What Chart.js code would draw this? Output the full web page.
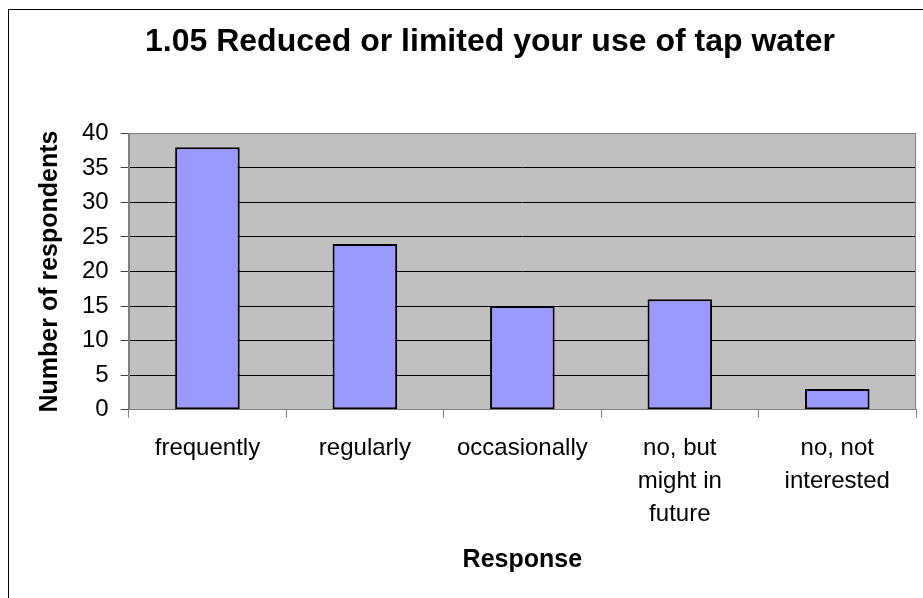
<!DOCTYPE html>
<html>
<head>
<meta charset="utf-8">
<script src="https://cdn.jsdelivr.net/npm/chart.js@4"></script>
<style>
  html, body { margin: 0; padding: 0; background: #fff; overflow: hidden; }
  #wrap { position: relative; width: 923px; height: 598px; }
  #frame { position: absolute; left: 8px; top: 9px; width: 1000px; height: 1000px;
           border-left: 1px solid #000; border-top: 1px solid #000; box-sizing: border-box; pointer-events: none; }
  canvas { position: absolute; left: 0; top: 0; }
</style>
</head>
<body>
<div id="wrap">
  <canvas id="c" width="923" height="598"></canvas>
  <div id="frame"></div>
</div>
<script>
const categories = [
  "frequently",
  "regularly",
  "occasionally",
  ["no, but", "might in", "future"],
  ["no, not", "interested"]
];
const respondents = [38, 24, 15, 16, 3];
const yTicks = [0, 5, 10, 15, 20, 25, 30, 35, 40];
const chartTitle = "1.05 Reduced or limited your use of tap water";
const xTitle = "Response";
const yTitle = "Number of respondents";

const FONT = "'Liberation Sans', Arial, Helvetica, sans-serif";

const plotBg = {
  id: 'plotBg',
  beforeDraw(chart) {
    const {ctx, chartArea: a} = chart;
    ctx.save();
    ctx.fillStyle = '#C0C0C0';
    ctx.fillRect(a.left, a.top, a.right - a.left, a.bottom - a.top);
    ctx.restore();
  },
  beforeDatasetsDraw(chart) {
    const {ctx, chartArea: a} = chart;
    ctx.save();
    ctx.strokeStyle = '#808080';
    ctx.lineWidth = 1;
    ctx.strokeRect(Math.round(a.left) + 0.5, Math.round(a.top) + 0.5,
                   Math.round(a.right - a.left) - 1, Math.round(a.bottom - a.top));
    ctx.restore();
  }
};

new Chart(document.getElementById('c'), {
  type: 'bar',
  data: {
    labels: categories,
    datasets: [{
      data: respondents,
      backgroundColor: '#9999FF',
      borderColor: '#000000',
      borderWidth: 2,
      borderSkipped: false,
      categoryPercentage: 1.0,
      barPercentage: 0.41
    }]
  },
  options: {
    responsive: false,
    devicePixelRatio: 1,
    animation: false,
    events: [],
    layout: { padding: { left: 64, right: 7, top: 0, bottom: 23 } },
    plugins: {
      legend: { display: false },
      tooltip: { enabled: false },
      title: {
        display: true,
        text: chartTitle,
        color: '#000',
        font: { family: FONT, size: 32, weight: 'bold', lineHeight: 1.2 },
        padding: { top: 23, bottom: 72 }
      }
    },
    scales: {
      x: {
        offset: true,
        grid: {
          offset: true,
          drawOnChartArea: false,
          drawTicks: true,
          tickLength: 8,
          color: '#808080'
        },
        border: { display: true, color: '#808080' },
        ticks: {
          color: '#000',
          maxRotation: 0,
          autoSkip: false,
          padding: 14,
          font: { family: FONT, size: 24, lineHeight: 1.38 }
        },
        title: {
          display: true,
          text: xTitle,
          color: '#000',
          font: { family: FONT, size: 25, weight: 'bold', lineHeight: 1.2 },
          padding: { top: 0, bottom: 0 }
        }
      },
      y: {
        min: 0,
        max: 40,
        afterBuildTicks(scale) { scale.ticks = yTicks.map(v => ({ value: v })); },
        grid: {
          color: (c) => (c.tick && (c.tick.value === 0 || c.tick.value === 40)) ? '#808080' : '#000000',
          tickColor: '#404040',
          drawTicks: true,
          tickLength: 8
        },
        border: { display: true, color: '#808080' },
        ticks: {
          color: '#000',
          padding: 12,
          font: { family: FONT, size: 24 }
        },
        title: {
          display: true,
          text: yTitle,
          color: '#000',
          font: { family: FONT, size: 25, weight: 'bold', lineHeight: 1.2 },
          padding: { top: -29, bottom: 5 }
        }
      }
    }
  },
  plugins: [plotBg]
});
</script>
</body>
</html>
